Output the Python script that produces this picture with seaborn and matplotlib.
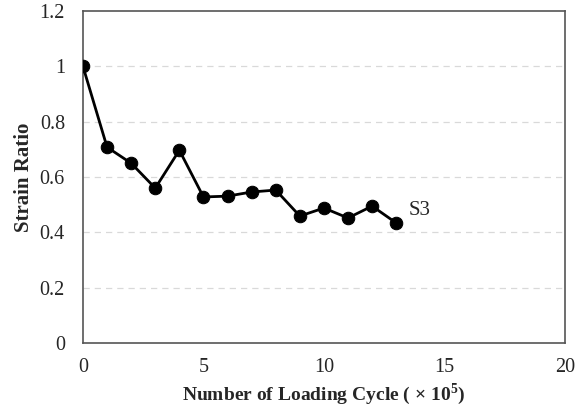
import numpy as np
import pandas as pd
import matplotlib
matplotlib.use("Agg")
import matplotlib.pyplot as plt
import seaborn as sns

# dados
cycles = [0, 1, 2, 3, 4, 5, 6, 7, 8, 9, 10, 11, 12, 13]
strain_ratio = [1.0, 0.708, 0.65, 0.56, 0.697, 0.528, 0.531, 0.546, 0.553,
                0.459, 0.488, 0.452, 0.495, 0.434]
x_ticks = [0, 5, 10, 15, 20]
y_ticks = [0, 0.2, 0.4, 0.6, 0.8, 1, 1.2]
y_tick_labels = ["0", "0.2", "0.4", "0.6", "0.8", "1", "1.2"]
series_label = "S3"

sns.set_style("white")
plt.rcParams['font.family'] = ['Liberation Serif', 'DejaVu Serif']
plt.rcParams['mathtext.fontset'] = 'custom'
plt.rcParams['mathtext.rm'] = 'Liberation Serif'
plt.rcParams['mathtext.bf'] = 'Liberation Serif:bold'

df = pd.DataFrame({"cycle": cycles, "ratio": strain_ratio})

fig = plt.figure(figsize=(5.77, 4.12), dpi=100)
ax = fig.add_axes([0.1438, 0.1675, 0.8352, 0.8055])

for yv in y_ticks[1:-1]:
    ax.axhline(yv, color="#d9d9d9", linestyle=(0, (5, 4)), linewidth=0.9, zorder=0)

sns.lineplot(data=df, x="cycle", y="ratio", ax=ax, color="black", linewidth=2,
             marker="o", markersize=9, markeredgecolor="black", zorder=3)

ax.text(13.5, 0.48, series_label, fontsize=15, va="center", ha="left")

ax.set_xlim(0, 20)
ax.set_ylim(0, 1.2)
ax.set_xticks(x_ticks)
ax.set_yticks(y_ticks)
ax.set_yticklabels(y_tick_labels)
ax.tick_params(axis="x", direction="in", length=5, width=0.8, labelsize=14.5, pad=11, color="#555555")
ax.tick_params(axis="y", length=0, labelsize=14.5, pad=13)
for s in ax.spines.values():
    s.set_color("#555555")
    s.set_linewidth(1.2)

ax.set_xlabel("Number of Loading Cycle ( × 10$^{\\mathbf{5}}$)", fontsize=14, fontweight="bold", labelpad=3)
ax.set_ylabel("Strain Ratio", fontsize=15, fontweight="bold", labelpad=4)

fig.savefig("out.png", dpi=100)
